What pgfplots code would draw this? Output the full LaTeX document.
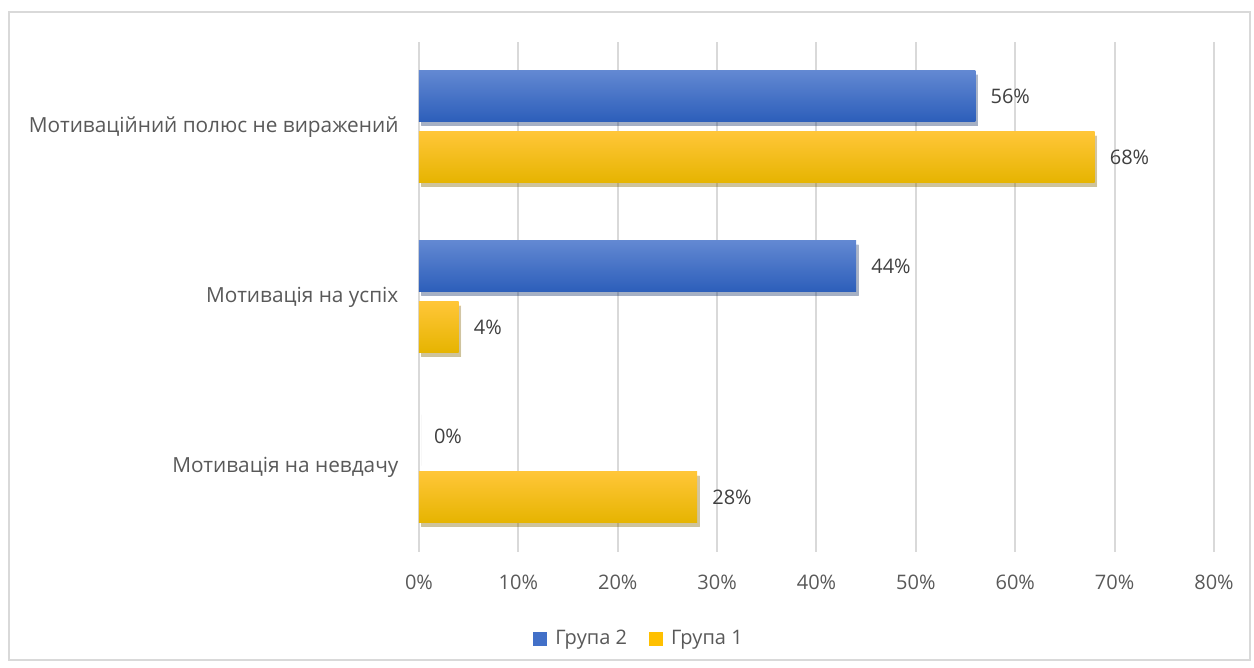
\documentclass[border=0pt]{standalone}
\usepackage{fontspec}
\setmainfont{Open Sans}
\usepackage{pgfplots}
\pgfplotsset{compat=1.18}
\definecolor{gridgray}{RGB}{217,217,217}
\definecolor{ticktext}{RGB}{89,89,89}
\definecolor{labtext}{RGB}{64,64,64}
\definecolor{blueTop}{RGB}{98,136,210}
\definecolor{blueMid}{RGB}{66,112,200}
\definecolor{blueBot}{RGB}{44,94,186}
\definecolor{golTop}{RGB}{255,198,56}
\definecolor{golMid}{RGB}{255,192,0}
\definecolor{golBot}{RGB}{230,180,0}
\pgfplotsset{
  blueBar/.style={draw=none, top color=blueTop, middle color=blueMid, bottom color=blueBot, bar shift=15.25pt,
    preaction={fill=black, opacity=0.22, transform canvas={xshift=1.2pt, yshift=-1.8pt}}, forget plot},
  golBar/.style={draw=none, top color=golTop, middle color=golMid, bottom color=golBot, bar shift=-15.25pt,
    preaction={fill=black, opacity=0.22, transform canvas={xshift=1.2pt, yshift=-1.8pt}}, forget plot},
}
\begin{document}
\begin{tikzpicture}
\begin{axis}[
  name=ax, scale only axis, width=397.5pt, height=255pt,
  xbar, bar width=25.5pt,
  xmin=0, xmax=80, ymin=-0.5, ymax=2.5,
  /pgf/number format/assume math mode=true,
  xtick={0,10,20,30,40,50,60,70,80},
  xticklabels={0\%,10\%,20\%,30\%,40\%,50\%,60\%,70\%,80\%},
  ytick={0,1,2},
  yticklabels={Мотивація на невдачу,Мотивація на успіх,Мотиваційний полюс не виражений},
  xmajorgrids, major grid style={gridgray, line width=1pt},
  axis line style={draw=none},
  tick style={draw=none},
  ticklabel style={font=\fontsize{10}{12}\selectfont, text=ticktext},
  xticklabel style={yshift=-8pt},
  yticklabel style={xshift=-2.5pt, font=\fontsize{10.4}{12}\selectfont},
  nodes near coords={\pgfmathprintnumber{\pgfplotspointmeta}\%},
  point meta=x,
  every node near coord/.append style={font=\fontsize{10}{12}\selectfont, text=labtext, anchor=west, xshift=4pt},
  legend style={at={(0.278,-0.17)}, anchor=center, draw=none, legend columns=2,
    font=\fontsize{10}{12}\selectfont, text=ticktext,
    /tikz/every odd column/.append style={column sep=2pt},
    /tikz/every even column/.append style={column sep=9pt}},
  legend image code/.code={\fill[#1] (0pt,-3.5pt) rectangle (7pt,3.5pt);},
]
\addplot[blueBar] coordinates {(0,0)};
\addplot[blueBar] coordinates {(44,1)};
\addplot[blueBar] coordinates {(56,2)};
\addplot[golBar] coordinates {(28,0)};
\addplot[golBar] coordinates {(4,1)};
\addplot[golBar] coordinates {(68,2)};
\addlegendimage{draw=none, fill=blueMid}
\addlegendentry{Група 2}
\addlegendimage{draw=none, fill=golMid}
\addlegendentry{Група 1}
\end{axis}
\draw[gridgray, line width=0.75pt] ([xshift=-205pt,yshift=-54pt]ax.south west) rectangle ([xshift=415.5pt,yshift=270pt]ax.south west);
\path ([xshift=-209.5pt,yshift=-58pt]ax.south west) rectangle ([xshift=417.5pt,yshift=276pt]ax.south west);
\end{tikzpicture}
\end{document}
